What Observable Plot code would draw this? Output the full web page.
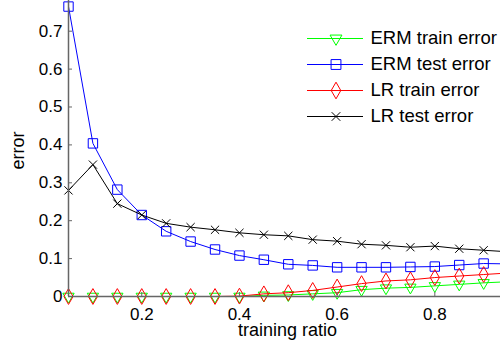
<!DOCTYPE html>
<html>
<head>
<meta charset="utf-8">
<script src="https://cdn.jsdelivr.net/npm/d3@7"></script>
<script src="https://cdn.jsdelivr.net/npm/@observablehq/plot@0.6"></script>
<style>
  html, body { margin: 0; padding: 0; background: #fff; overflow: hidden; }
  #wrap { position: relative; width: 500px; height: 351px; }
  #legend { position: absolute; left: 300px; top: 22px; }
</style>
</head>
<body>
<div id="wrap"><div id="chart"></div><div id="legend"></div></div>
<script>
// ---- data ----
const ratios   = [0.05, 0.10, 0.15, 0.20, 0.25, 0.30, 0.35, 0.40, 0.45, 0.50, 0.55, 0.60, 0.65, 0.70, 0.75, 0.80, 0.85, 0.90, 0.95];
const ermTrain = [0, 0, 0, 0, 0, 0, 0, 0, 0.003, 0.004, 0.007, 0.010, 0.018, 0.022, 0.024, 0.028, 0.032, 0.036, 0.039];
const ermTest  = [0.765, 0.404, 0.282, 0.215, 0.172, 0.145, 0.124, 0.108, 0.097, 0.085, 0.082, 0.077, 0.077, 0.077, 0.078, 0.079, 0.083, 0.087, 0.086];
const lrTrain  = [0, 0, 0, 0, 0, 0, 0, 0.001, 0.007, 0.010, 0.016, 0.025, 0.034, 0.041, 0.044, 0.050, 0.054, 0.058, 0.062];
const lrTest   = [0.280, 0.348, 0.245, 0.215, 0.193, 0.183, 0.176, 0.168, 0.163, 0.160, 0.150, 0.146, 0.138, 0.135, 0.130, 0.133, 0.126, 0.122, 0.118];
const seriesNames   = ["ERM train error", "ERM test error", "LR train error", "LR test error"];
const seriesColors  = ["#00ff00", "#0000ff", "#ff0000", "#000000"];
const seriesSymbols = ["triangle", "square", "diamond", "times"];
const xTicks = [0.2, 0.4, 0.6, 0.8];
const yTicks = [0, 0.1, 0.2, 0.3, 0.4, 0.5, 0.6, 0.7];
const xLabel = "training ratio";
const yLabel = "error";

// ---- build ----
const seriesValues = [ermTrain, ermTest, lrTrain, lrTest];
const symbolStyle = {
  triangle: {r: 4.2, rotate: 180},
  square:   {r: 5.3, rotate: 0},
  diamond:  {r: 4.8, rotate: 0},
  times:    {r: 3.8, rotate: 0}
};
const xDomain = [0.05, 1.0];
const font = "'Liberation Sans', Arial, Helvetica, sans-serif";
const axisColor = "#666";

const marks = [];
seriesNames.forEach((name, i) => {
  const rows = ratios.map((x, j) => ({x, y: seriesValues[i][j]}));
  const sym = seriesSymbols[i];
  marks.push(Plot.line(rows, {x: "x", y: "y", stroke: seriesColors[i], strokeWidth: 1, clip: true}));
  marks.push(Plot.dot(rows.filter(d => d.x < 0.93), {
    x: "x", y: "y", symbol: () => sym, r: symbolStyle[sym].r, rotate: symbolStyle[sym].rotate,
    stroke: seriesColors[i], fill: "none", strokeWidth: 1
  }));
});

// axes (drawn on top)
marks.push(Plot.ruleX([xDomain[0]], {stroke: axisColor, strokeWidth: 1.5}));
marks.push(Plot.ruleY([0], {stroke: axisColor, strokeWidth: 1.5}));
marks.push(Plot.axisY(yTicks, {anchor: "left", tickSize: 4, dx: 4, fill: "none", stroke: axisColor, label: null}));
marks.push(Plot.axisY(yTicks, {anchor: "left", tickSize: 0, tickPadding: 6, fontSize: 17, fill: "#000", label: null,
  tickFormat: d => d === 0 ? "0" : d3.format(".1f")(d)}));
marks.push(Plot.axisX(xTicks, {anchor: "bottom", tickSize: 4, dy: -4, fill: "none", stroke: axisColor, label: null}));
marks.push(Plot.axisX(xTicks, {anchor: "bottom", tickSize: 0, tickPadding: 11, fontSize: 17, fill: "#000", label: null,
  tickFormat: d3.format(".1f")}));
marks.push(Plot.text([xLabel], {frameAnchor: "bottom", textAnchor: "middle", lineAnchor: "middle",
  dx: 3, dy: 34, fontSize: 18, fill: "#000", text: d => d}));
marks.push(Plot.text([yLabel], {frameAnchor: "left", textAnchor: "middle", lineAnchor: "middle",
  rotate: -90, dx: -50, dy: 2, fontSize: 18, fill: "#000", text: d => d}));

const chart = Plot.plot({
  width: 500,
  height: 351,
  marginLeft: 68,
  marginRight: 0,
  marginTop: 0,
  marginBottom: 55,
  x: {domain: xDomain, range: [68, 532], axis: null},
  y: {domain: [0, 0.781], axis: null},
  style: {fontFamily: font, fontSize: "17px", background: "#fff", color: "#000", overflow: "hidden"},
  marks
});
document.getElementById("chart").appendChild(chart);

// ---- legend ----
const legendRows = seriesNames.map((name, i) => ({name, color: seriesColors[i], symbol: seriesSymbols[i]}));
const legendMarks = [];
legendRows.forEach(d => {
  legendMarks.push(Plot.ruleY([d], {y: "name", x1: 7, x2: 63, stroke: d.color, strokeWidth: 1}));
  legendMarks.push(Plot.dot([d], {y: "name", x: () => 35.5, symbol: () => d.symbol,
    r: symbolStyle[d.symbol].r * 1.05, rotate: symbolStyle[d.symbol].rotate, stroke: d.color, fill: "none", strokeWidth: 1}));
});
legendMarks.push(Plot.text(legendRows, {y: "name", x: () => 70, text: "name", textAnchor: "start", lineAnchor: "middle", fontSize: 18.5, fill: "#000"}));
const legend = Plot.plot({
  width: 200,
  height: 112,
  margin: 0,
  x: {type: "identity", axis: null},
  y: {type: "point", domain: seriesNames, range: [15.7, 94], padding: 0, axis: null},
  style: {fontFamily: font, fontSize: "18px", background: "transparent", overflow: "visible"},
  marks: legendMarks
});
document.getElementById("legend").appendChild(legend);
</script>
</body>
</html>
